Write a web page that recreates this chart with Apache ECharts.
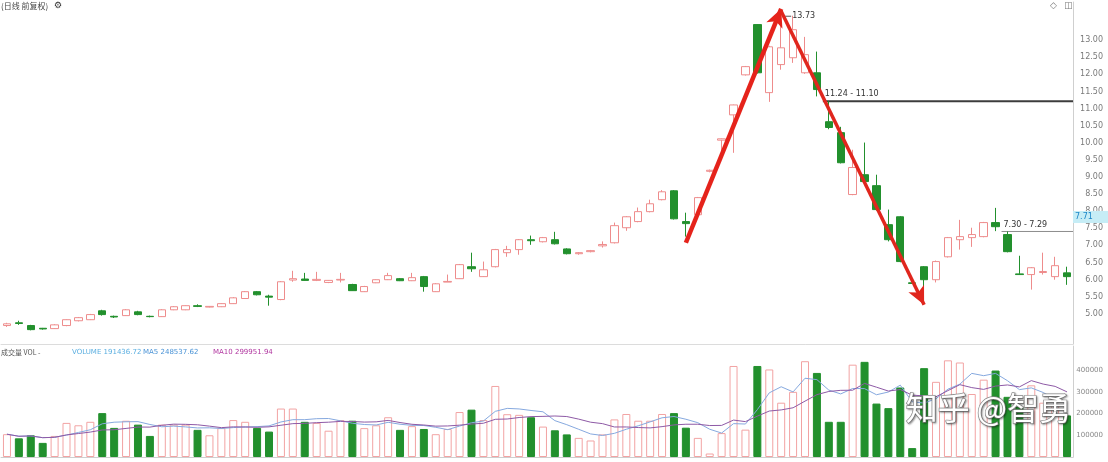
<!DOCTYPE html>
<html>
<head>
<meta charset="utf-8">
<script src="https://cdn.jsdelivr.net/npm/echarts@6/dist/echarts.min.js"></script>
<style>
html,body{margin:0;padding:0;background:#fff;}
#c{width:1108px;height:462px;}
</style>
</head>
<body>
<div id="c"></div>
<script>
// ---------- data ----------
const categories = Array.from({length: 90}, (_, i) => 'D' + (i + 1));

const openP = [4.54,4.62,4.54,4.46,4.45,4.54,4.68,4.71,4.97,4.81,
4.83,4.94,4.81,4.80,5.00,5.00,5.12,5.08,5.09,5.18,
5.33,5.53,5.40,5.30,5.87,5.90,5.86,5.80,5.87,5.74,
5.53,5.79,5.88,5.91,5.85,5.97,5.53,5.81,5.91,6.26,
5.97,6.26,6.67,6.76,7.05,6.99,7.05,6.78,6.64,6.70,
6.87,6.96,7.40,7.58,7.87,8.22,8.48,7.58,7.78,9.05,
9.96,10.70,11.87,13.34,11.35,12.17,12.37,11.93,11.93,10.50,
10.18,8.37,8.95,8.63,7.49,7.72,5.79,6.26,5.88,6.55,
7.05,7.11,7.14,7.55,7.20,6.05,6.03,6.09,5.97,6.08];

const closeP = [4.59,4.60,4.42,4.44,4.56,4.71,4.77,4.86,4.86,4.79,
5.00,4.86,4.80,5.00,5.09,5.12,5.10,5.10,5.18,5.35,
5.53,5.44,5.37,5.82,5.91,5.86,5.89,5.86,5.89,5.56,
5.68,5.88,6.00,5.85,5.94,5.68,5.76,5.83,6.32,6.20,
6.17,6.76,6.76,7.05,7.02,7.11,6.93,6.64,6.67,6.73,
6.91,7.46,7.72,7.87,8.10,8.45,7.66,7.52,8.28,9.08,
10.00,10.99,12.11,11.93,12.69,12.66,13.19,12.46,11.44,10.33,
9.30,9.16,8.75,7.93,7.05,6.41,5.77,5.88,6.41,7.11,
7.14,7.20,7.55,7.43,6.70,6.03,6.23,6.12,6.29,5.97];

const lowP = [4.50,4.56,4.40,4.42,4.44,4.52,4.66,4.70,4.83,4.76,
4.82,4.84,4.78,4.79,4.99,4.99,5.08,5.07,5.08,5.17,
5.32,5.42,5.12,5.28,5.82,5.85,5.84,5.78,5.80,5.55,
5.52,5.78,5.87,5.84,5.84,5.53,5.52,5.81,5.90,6.11,
5.96,6.24,6.55,6.61,6.90,6.97,6.91,6.62,6.61,6.68,
6.82,6.94,7.31,7.56,7.85,8.20,7.64,7.14,7.76,9.02,
9.55,9.59,11.85,11.91,11.08,12.02,12.22,11.90,11.24,10.28,
9.28,8.35,8.72,7.90,7.00,6.39,5.77,5.21,5.80,6.53,
6.76,6.84,7.12,7.30,6.68,6.02,5.59,6.03,5.88,5.73];

const highP = [4.62,4.68,4.56,4.47,4.58,4.72,4.79,4.88,5.00,4.83,
5.02,4.97,4.83,5.02,5.11,5.13,5.16,5.11,5.19,5.37,
5.55,5.55,5.44,5.84,6.14,6.08,6.11,5.87,6.08,5.76,
5.70,5.89,6.08,5.93,6.08,5.99,5.78,6.03,6.34,6.67,
6.41,6.78,6.87,7.07,7.17,7.13,7.28,6.80,6.69,6.75,
7.00,7.55,7.74,7.99,8.22,8.50,8.50,7.84,8.30,9.10,
10.01,11.00,12.13,13.35,12.72,13.73,13.60,12.98,12.55,11.10,
10.35,9.68,9.89,8.95,7.93,7.74,5.79,6.28,6.44,7.13,
7.63,7.40,7.57,7.98,7.29,6.58,6.25,6.67,6.55,6.26];

const volume = [105000,86000,100000,65000,97000,157000,146000,162000,202000,134000,
167000,149000,97000,149000,149000,149000,125000,100000,133000,170000,
162000,134000,117000,223000,223000,162000,157000,121000,170000,167000,
133000,146000,183000,125000,142000,129000,105000,129000,207000,218000,
170000,327000,197000,194000,183000,140000,123000,104000,88000,76000,
104000,173000,198000,167000,167000,198000,202000,135000,88000,16000,
110000,419000,126000,419000,403000,250000,300000,441000,387000,162000,
162000,425000,438000,246000,225000,320000,41000,409000,346000,445000,
435000,290000,356000,398000,277000,230000,330000,250000,240000,191436.72];

const priceTicks = [5,5.5,6,6.5,7,7.5,8,8.5,9,9.5,10,10.5,11,11.5,12,12.5,13];
const volumeTicks = [100000,200000,300000,400000];

// annotations (data space)
const upArrow = [[57, 6.96], [65, 13.80]];
const downArrow = [[65, 13.73], [77, 5.15]];
const levelStart = [69, 84];
const levelValue = [11.10, 7.29];
const levelText = ['11.24 - 11.10', '7.30 - 7.29'];
const peakIndex = 65, peakValue = 13.73;
const tagValue = 7.71;

const volHeader = {name: '成交量 VOL -', vol: 'VOLUME 191436.72', ma5: 'MA5 248537.62', ma10: 'MA10 299951.94'};

// ---------- build ----------
const UP = '#ee8c8c', DOWN = '#22902d';
const kData = openP.map((o, i) => [o, closeP[i], lowP[i], highP[i]]);
const volData = volume.map((v, i) => {
  const up = closeP[i] >= openP[i];
  return {value: v, itemStyle: up ? {color: '#ffffff', borderColor: '#f2a3a3', borderWidth: 1} : {color: DOWN, borderColor: DOWN, borderWidth: 1}};
});
function ma(n) {
  return volume.map((v, i) => {
    const s = volume.slice(Math.max(0, i - n + 1), i + 1);
    return +(s.reduce((a, b) => a + b, 0) / s.length).toFixed(2);
  });
}
const fontCJK = '"Noto Sans CJK SC", "Noto Sans", sans-serif';

const chart = echarts.init(document.getElementById('c'), null, {renderer: 'canvas'});
chart.setOption({
  animation: false,
  backgroundColor: '#ffffff',
  grid: [
    {left: 1, right: 35, top: 2, height: 342},
    {left: 1, right: 35, top: 346, height: 111}
  ],
  xAxis: [
    {type: 'category', data: categories, gridIndex: 0, boundaryGap: true,
     axisLine: {show: true, lineStyle: {color: '#dcdcdc'}}, axisTick: {show: false}, axisLabel: {show: false}, splitLine: {show: false}},
    {type: 'category', data: categories, gridIndex: 1, boundaryGap: true,
     axisLine: {show: true, lineStyle: {color: '#cfcfcf'}}, axisTick: {show: false}, axisLabel: {show: false}, splitLine: {show: false}}
  ],
  yAxis: [
    {type: 'value', gridIndex: 0, position: 'right', min: 4, max: 14, interval: 0.5,
     axisLine: {show: true, lineStyle: {color: '#cfcfcf'}}, axisTick: {show: false}, splitLine: {show: false},
     axisLabel: {color: '#7a7a7a', fontSize: 8, align: 'right', verticalAlign: 'top', margin: 30, fontFamily: 'DejaVu Sans',
       formatter: v => priceTicks.some(t => Math.abs(t - v) < 1e-6) ? v.toFixed(2) : ''}},
    {type: 'value', gridIndex: 1, position: 'right', min: 0, max: 511000, interval: 100000,
     axisLine: {show: true, lineStyle: {color: '#cfcfcf'}}, axisTick: {show: false}, splitLine: {show: false},
     axisLabel: {color: '#888', fontSize: 7, align: 'right', margin: 30, fontFamily: 'DejaVu Sans',
       formatter: v => volumeTicks.includes(v) ? String(v) : ''}}
  ],
  series: [
    {
      type: 'candlestick', name: 'K', xAxisIndex: 0, yAxisIndex: 0, data: kData,
      barWidth: '66%',
      itemStyle: {color: '#ffffff', color0: DOWN, borderColor: UP, borderColor0: DOWN, borderWidth: 1},
      markLine: {
        silent: true, symbol: ['none', 'arrow'], symbolSize: [13, 18], label: {show: false},
        data: [
          [{coord: [categories[upArrow[0][0]], upArrow[0][1]], lineStyle: {color: '#e5231b', width: 4.5, type: 'solid'}},
           {coord: [categories[upArrow[1][0]], upArrow[1][1]]}],
          [{coord: [categories[downArrow[0][0]], downArrow[0][1]], lineStyle: {color: '#e0261d', width: 3.5, type: 'solid'}},
           {coord: [categories[downArrow[1][0]], downArrow[1][1]]}]
        ]
      }
    },
    {
      type: 'custom', name: 'levels', xAxisIndex: 0, yAxisIndex: 0,
      data: levelStart.map((s, k) => [s, levelValue[k]]),
      renderItem: (params, api) => {
        const i = params.dataIndex;
        const p = api.coord([api.value(0), api.value(1)]);
        const half = api.size([1, 0])[0] / 2;
        const cs = params.coordSys;
        const x0 = p[0] - half, x1 = cs.x + cs.width;
        return {type: 'group', children: [
          {type: 'line', shape: {x1: x0, y1: p[1], x2: x1, y2: p[1]},
           style: {stroke: i === 0 ? '#3c3c3c' : '#8c8c8c', lineWidth: i === 0 ? 2 : 1}},
          {type: 'text', x: x0 + 2, y: p[1] - 3,
           style: {text: levelText[i], fill: '#333', font: '8px "DejaVu Sans"', verticalAlign: 'bottom'}}
        ]};
      }
    },
    {
      type: 'custom', name: 'peak', xAxisIndex: 0, yAxisIndex: 0,
      data: [[peakIndex, peakValue]],
      renderItem: (params, api) => {
        const p = api.coord([api.value(0), api.value(1)]);
        return {type: 'group', children: [
          {type: 'line', shape: {x1: p[0] + 4, y1: p[1] + 5, x2: p[0] + 10, y2: p[1] + 5}, style: {stroke: '#555', lineWidth: 1}},
          {type: 'text', x: p[0] + 11, y: p[1] + 5,
           style: {text: peakValue.toFixed(2), fill: '#333', font: '8px "DejaVu Sans"', verticalAlign: 'middle'}}
        ]};
      }
    },
    {
      type: 'custom', name: 'tag', xAxisIndex: 0, yAxisIndex: 0,
      data: [[categories.length - 1, tagValue]],
      renderItem: (params, api) => {
        const p = api.coord([api.value(0), api.value(1)]);
        const cs = params.coordSys;
        const x = cs.x + cs.width;
        return {type: 'group', children: [
          {type: 'rect', shape: {x: x, y: p[1] - 6, width: 40, height: 12}, style: {fill: '#c6edf6'}},
          {type: 'text', x: x + 2, y: p[1],
           style: {text: tagValue.toFixed(2), fill: '#1a86c8', font: '8px "DejaVu Sans"', verticalAlign: 'middle'}}
        ]};
      }
    },
    {
      type: 'bar', name: 'VOL', xAxisIndex: 1, yAxisIndex: 1, data: volData, barWidth: 8
    },
    {
      type: 'line', name: 'MA5', xAxisIndex: 1, yAxisIndex: 1, data: ma(5), symbol: 'none', smooth: false,
      lineStyle: {color: '#86a9df', width: 1}
    },
    {
      type: 'line', name: 'MA10', xAxisIndex: 1, yAxisIndex: 1, data: ma(10), symbol: 'none', smooth: false,
      lineStyle: {color: '#8e5aa6', width: 1}
    }
  ],
  graphic: [
    {type: 'text', left: 1, top: 2, style: {text: '(日线 前复权)', fill: '#444', font: '8px ' + fontCJK}},
    {type: 'text', left: 54, top: 1, style: {text: '⚙', fill: '#333', font: '9px "DejaVu Sans"'}},
    {type: 'text', left: 1050, top: 1, style: {text: '◇', fill: '#777', font: '9px "DejaVu Sans"'}},
    {type: 'text', left: 1064, top: 1, style: {text: '◫', fill: '#777', font: '9px "DejaVu Sans"'}},
    {type: 'text', left: 1, top: 349, style: {text: volHeader.name, fill: '#555', font: '7px ' + fontCJK}},
    {type: 'text', left: 72, top: 349, style: {text: volHeader.vol, fill: '#5aaee0', font: '7px "DejaVu Sans"'}},
    {type: 'text', left: 143, top: 349, style: {text: volHeader.ma5, fill: '#4a93d6', font: '7px "DejaVu Sans"'}},
    {type: 'text', left: 213, top: 349, style: {text: volHeader.ma10, fill: '#b0359f', font: '7px "DejaVu Sans"'}},
    {type: 'text', left: 905, top: 391, z: 100,
     style: {text: '知乎 @智勇', fill: '#ffffff', stroke: '#8a8a8a', lineWidth: 1.4, font: '32px ' + fontCJK,
             textShadowColor: 'rgba(0,0,0,0.35)', textShadowBlur: 2, textShadowOffsetX: 1, textShadowOffsetY: 1}}
  ]
});
</script>
</body>
</html>
